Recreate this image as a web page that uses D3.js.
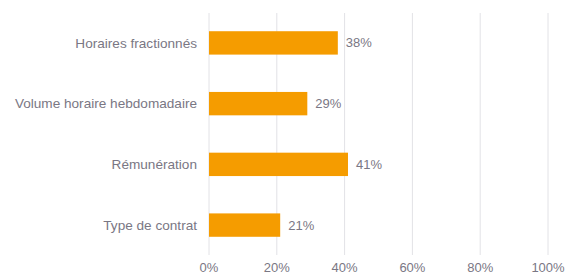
<!DOCTYPE html>
<html>
<head>
<meta charset="utf-8">
<script src="https://cdn.jsdelivr.net/npm/d3@7"></script>
<style>
  body { margin: 0; background: #fff; }
  text { font-family: "Liberation Sans", Arial, sans-serif; }
</style>
</head>
<body>
<div id="chart"></div>
<script>
const width = 566,
      height = 276;

const categories = ["Horaires fractionnés", "Volume horaire hebdomadaire", "Rémunération", "Type de contrat"];
const values = [0.38, 0.29, 0.41, 0.21];
const ticks = [0, 0.2, 0.4, 0.6, 0.8, 1];

const margin = { top: 13, right: 18, bottom: 21, left: 209 };

const x = d3.scaleLinear()
    .domain([0, 1])
    .range([margin.left, width - margin.right]);

const y = d3.scaleBand()
    .domain(categories)
    .range([margin.top, height - margin.bottom])
    .paddingInner(0.615)
    .paddingOuter(0.3);

const svg = d3.select("#chart")
  .append("svg")
    .attr("width", width)
    .attr("height", height);

// grid
svg.append("g")
  .selectAll("line")
  .data(ticks)
  .enter()
  .append("line")
    .attr("x1", d => x(d))
    .attr("x2", d => x(d))
    .attr("y1", margin.top)
    .attr("y2", height - margin.bottom)
    .attr("stroke", "#e2e2e6")
    .attr("stroke-width", 1);

// tick labels
svg.append("g")
  .selectAll("text")
  .data(ticks)
  .enter()
  .append("text")
    .attr("x", d => x(d))
    .attr("y", height - 4)
    .attr("text-anchor", "middle")
    .attr("fill", "#7a7784")
    .style("font-size", "13px")
    .text(d3.format(".0%"));

// bars
svg.append("g")
  .selectAll("rect")
  .data(values)
  .enter()
  .append("rect")
    .attr("x", x(0))
    .attr("y", (d, i) => y(categories[i]))
    .attr("width", d => x(d) - x(0))
    .attr("height", y.bandwidth())
    .attr("fill", "#f59c00");

// value labels
svg.append("g")
  .selectAll("text")
  .data(values)
  .enter()
  .append("text")
    .attr("x", d => x(d) + 8)
    .attr("y", (d, i) => y(categories[i]) + y.bandwidth() / 2)
    .attr("dy", "0.35em")
    .attr("fill", "#7a7784")
    .style("font-size", "13px")
    .text(d3.format(".0%"));

// category labels
svg.append("g")
  .selectAll("text")
  .data(categories)
  .enter()
  .append("text")
    .attr("x", margin.left - 12)
    .attr("y", d => y(d) + y.bandwidth() / 2)
    .attr("dy", "0.35em")
    .attr("text-anchor", "end")
    .attr("fill", "#7a7784")
    .style("font-size", "13.6px")
    .text(d => d);
</script>
</body>
</html>
